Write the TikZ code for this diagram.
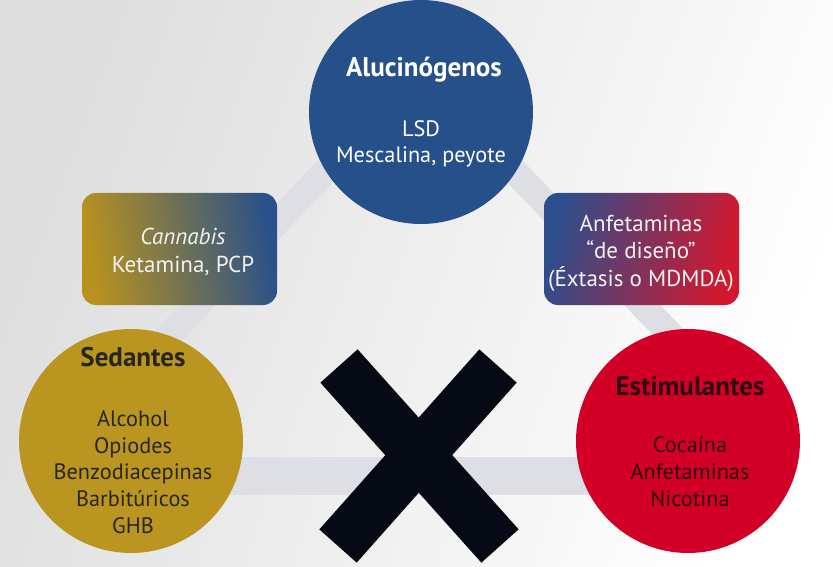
\documentclass[tikz,border=0pt]{standalone}
\usepackage{fontspec}
\setmainfont{PT Sans}
\definecolor{bgl}{RGB}{222,222,222}
\definecolor{bgm}{RGB}{242,242,242}
\definecolor{bandc}{RGB}{222,223,228}
\definecolor{cblue}{RGB}{38,80,138}
\definecolor{cgold}{RGB}{186,150,32}
\definecolor{cred}{RGB}{210,0,38}
\definecolor{xcol}{RGB}{6,10,20}
\definecolor{goldtxt}{RGB}{40,38,28}
\definecolor{redtxt}{RGB}{45,12,16}
\definecolor{boxtxt}{RGB}{242,242,242}
\definecolor{bgold}{RGB}{184,146,30}
\definecolor{bgray}{RGB}{110,108,102}
\definecolor{bblue}{RGB}{42,81,137}
\definecolor{rblue}{RGB}{44,78,140}
\definecolor{rred}{RGB}{210,24,46}
\begin{document}
\begin{tikzpicture}[x=1pt,y=-1pt,
  band/.style={draw=bandc,line cap=butt},
  disc/.style={circle,inner sep=0pt,minimum size=224pt,draw=none},
  title/.style={anchor=base,font=\fontsize{27}{30}\selectfont\bfseries},
  items/.style={anchor=base,align=center,font=\fontsize{22.3}{26.6}\selectfont},
  panel/.style={rounded corners=14pt,minimum width=195pt,minimum height=112pt,inner sep=0pt},
  paneltext/.style={anchor=base,align=center,text=boxtxt,font=\fontsize{23}{27.5}\selectfont}]
\useasboundingbox (0,0) rectangle (833,567);
\shade[left color=bgl, middle color=bgm, right color=white, shading angle=70] (0,0) rectangle (833,567);
% connecting bands
\coordinate (apex) at (420,72);
\coordinate (bl) at (69,440);
\coordinate (br) at (771,440);
\coordinate (hl) at (90,476);
\coordinate (hr) at (740,476);
\draw[band,line width=26pt] (apex) -- (bl);
\draw[band,line width=26pt] (apex) -- (br);
\draw[band,line width=38pt] (hl) -- (hr);
% circles
\node[disc,fill=cblue] (alu) at (421,112) {};
\node[disc,fill=cgold] (sed) at (131,441) {};
\node[disc,fill=cred] (est) at (688,441) {};
% panels
\node[panel,left color=bgold,middle color=bgray,right color=bblue,shading angle=100] (can) at (179.5,249) {};
\node[panel,left color=rblue,right color=rred,shading angle=75] (anf) at (641.5,249) {};
% texts
\node[title,text=white] (aluT) at (424,77) {Alucinógenos};
\node[items,text=white] (aluL) at (421,163) {LSD\\Mescalina, peyote};
\node[title,text=goldtxt] (sedT) at (133,366) {Sedantes};
\node[items,text=goldtxt] (sedL) at (133,533) {Alcohol\\Opiodes\\Benzodiacepinas\\Barbitúricos\\GHB};
\node[title,text=redtxt] (estT) at (690,395) {Estimulantes};
\node[items,text=redtxt] (estL) at (690,506) {Cocaína\\Anfetaminas\\Nicotina};
\node[paneltext] (canT) at (183,272) {\textit{Cannabis}\\Ketamina, PCP};
\node[paneltext] (anfT) at (641,286) {Anfetaminas\\“de diseño”\\(Éxtasis o MDMDA)};
% cross
\coordinate (xa1) at (339,366);
\coordinate (xa2) at (500,546);
\coordinate (xb1) at (498,366);
\coordinate (xb2) at (338,546);
\draw[xcol,line width=50pt,line cap=butt] (xa1) -- (xa2);
\draw[xcol,line width=50pt,line cap=butt] (xb1) -- (xb2);
\end{tikzpicture}
\end{document}
